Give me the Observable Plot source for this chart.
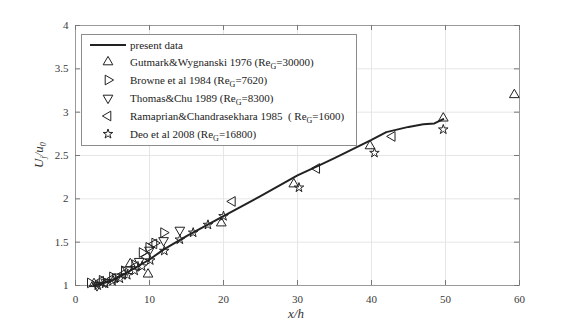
<!DOCTYPE html>
<html><head><meta charset="utf-8">
<script src="https://cdn.jsdelivr.net/npm/d3@7"></script>
<script src="https://cdn.jsdelivr.net/npm/@observablehq/plot@0.6"></script>
<style>
body{margin:0;background:#fff;}
#wrap{position:relative;width:581px;height:324px;font-family:"Liberation Serif","Times New Roman","DejaVu Serif",serif;}
#chart svg text{font-family:"Liberation Serif","Times New Roman","DejaVu Serif",serif !important;}
#legend{position:absolute;left:81px;top:34px;width:276px;height:112px;border:1px solid #8c8c8c;background:#fff;box-sizing:border-box;}
.row{position:absolute;left:0;height:16px;width:100%;font-size:11px;color:#222;white-space:nowrap;}
.row .txt{position:absolute;left:48px;top:0;line-height:16px;}
.row svg{position:absolute;left:0;top:0;}
sub{font-size:8px;vertical-align:-3px;line-height:0;}
#ylab{position:absolute;left:-1px;top:148px;width:80px;height:14px;line-height:14px;text-align:center;font-size:13px;font-style:italic;color:#333;transform:rotate(-90deg);}
#xlab{position:absolute;left:256px;top:307px;width:80px;height:13px;line-height:13px;text-align:center;font-size:13px;font-style:italic;color:#333;}
</style>
</head><body>
<div id="wrap"><div id="chart"></div><div id="legend"></div><div id="ylab">U<sub>j</sub>/u<sub>0</sub></div><div id="xlab">x/h</div></div>
<script>
// present data (solid line)
const presentX = [2.5, 3.5, 5, 7, 10, 12, 15, 20, 25, 30, 33, 35, 40, 42, 45, 47, 48.5, 49.7];
const presentY = [1.0, 1.02, 1.06, 1.15, 1.30, 1.42, 1.57, 1.80, 2.03, 2.27, 2.39, 2.47, 2.68, 2.77, 2.83, 2.86, 2.87, 2.92];
// Gutmark & Wygnanski 1976 (up triangles)
const gutmarkX = [2.5, 7.4, 9.8, 19.7, 29.5, 39.8, 49.7, 59.3];
const gutmarkY = [1.02, 1.25, 1.13, 1.72, 2.17, 2.61, 2.93, 3.20];
// Browne et al 1984 (right triangles)
const browneX = [2.0, 3.6, 5.0, 6.6, 8.0, 9.0, 9.9, 10.7, 11.9];
const browneY = [1.03, 1.06, 1.10, 1.17, 1.24, 1.38, 1.44, 1.49, 1.61];
// Thomas & Chu 1989 (down triangles)
const thomasX = [2.9, 4.1, 5.6, 7.0, 8.6, 10.0, 11.9, 14.1];
const thomasY = [1.00, 1.04, 1.10, 1.18, 1.28, 1.41, 1.52, 1.64];
// Ramaprian & Chandrasekhara 1985 (left triangles)
const ramaX = [3.4, 5.0, 6.4, 8.1, 9.6, 10.6, 21.2, 32.6, 42.8];
const ramaY = [1.05, 1.08, 1.13, 1.22, 1.33, 1.48, 1.97, 2.35, 2.72];
// Deo et al 2008 (stars)
const deoX = [3.0, 4.0, 5.0, 6.0, 7.0, 8.0, 9.0, 10.1, 12.0, 14.1, 15.9, 17.9, 20.0, 30.2, 40.4, 49.7];
const deoY = [1.00, 1.02, 1.05, 1.08, 1.12, 1.17, 1.22, 1.29, 1.40, 1.53, 1.61, 1.70, 1.80, 2.13, 2.53, 2.80];
// ticks
const xTicks = [0, 10, 20, 30, 40, 50, 60];
const yTicks = [1, 1.5, 2, 2.5, 3, 3.5, 4];

const pts = (xs, ys) => xs.map((x, i) => ({x, y: ys[i]}));
const ink = "#222";
const R = 3.6;
const RS = 3.0;
const serif = "Liberation Serif, Times New Roman, DejaVu Serif, serif";

const series = [
  {data: pts(gutmarkX, gutmarkY), symbol: "triangle", rotate: 0, label: "Gutmark&amp;Wygnanski 1976 (Re<sub>G</sub>=30000)"},
  {data: pts(browneX, browneY), symbol: "triangle", rotate: 90, label: "Browne et al 1984 (Re<sub>G</sub>=7620)"},
  {data: pts(thomasX, thomasY), symbol: "triangle", rotate: 180, label: "Thomas&amp;Chu 1989 (Re<sub>G</sub>=8300)"},
  {data: pts(ramaX, ramaY), symbol: "triangle", rotate: -90, label: "Ramaprian&amp;Chandrasekhara 1985&nbsp; ( Re<sub>G</sub>=1600)"},
  {data: pts(deoX, deoY), symbol: "star", rotate: 0, label: "Deo et al 2008 (Re<sub>G</sub>=16800)"}
];

const chart = Plot.plot({
  width: 581, height: 324,
  marginLeft: 75, marginRight: 62, marginTop: 25, marginBottom: 39,
  style: {fontFamily: serif, fontSize: "11px", background: "#fff"},
  x: {domain: [0, 60]},
  y: {domain: [1, 4]},
  marks: [
    Plot.gridX(xTicks, {stroke: "#e6e6e6", strokeOpacity: 1}),
    Plot.gridY(yTicks, {stroke: "#e6e6e6", strokeOpacity: 1}),
    Plot.frame({stroke: "#9a9a9a"}),
    Plot.tickX(xTicks, {x: d => d, stroke: "#777", insetTop: 255}),
    Plot.tickX(xTicks, {x: d => d, stroke: "#777", insetBottom: 255}),
    Plot.tickY(yTicks, {y: d => d, stroke: "#777", insetRight: 439}),
    Plot.tickY(yTicks, {y: d => d, stroke: "#777", insetLeft: 439}),
    Plot.axisX({ticks: xTicks, tickSize: 0, tickPadding: 10, label: null, color: "#3a3a3a", fontSize: 11, tickFormat: d => String(d)}),
    Plot.axisY({ticks: yTicks, tickSize: 0, tickPadding: 7, label: null, color: "#3a3a3a", fontSize: 11, tickFormat: d => String(d)}),
    Plot.line(pts(presentX, presentY), {x: "x", y: "y", stroke: ink, strokeWidth: 2, curve: "linear"}),
    ...series.map(s => Plot.dot(s.data, {x: "x", y: "y", symbol: s.symbol, rotate: s.rotate, r: s.symbol === "star" ? RS : R, stroke: ink, fill: "none", strokeWidth: 1}))
  ]
});
document.getElementById("chart").appendChild(chart);
d3.select(chart).selectAll("text").style("font-family", serif);

// legend
const legend = d3.select("#legend");
const rowTops = [2, 19, 37, 55, 73, 91];
const r0 = legend.append("div").attr("class", "row").style("top", rowTops[0] + "px");
const s0 = r0.append("svg").attr("width", 48).attr("height", 16);
s0.append("line").attr("x1", 8).attr("x2", 44).attr("y1", 8).attr("y2", 8).attr("stroke", ink).attr("stroke-width", 2);
r0.append("span").attr("class", "txt").text("present data");
series.forEach((s, i) => {
  const row = legend.append("div").attr("class", "row").style("top", rowTops[i + 1] + "px");
  const svg = row.append("svg").attr("width", 48).attr("height", 16);
  const type = s.symbol === "star" ? d3.symbolStar : d3.symbolTriangle;
  const rr = s.symbol === "star" ? RS : R;
  svg.append("path")
    .attr("d", d3.symbol(type, rr * rr * Math.PI)())
    .attr("transform", `translate(26,8) rotate(${s.rotate})`)
    .attr("fill", "none").attr("stroke", ink).attr("stroke-width", 1);
  row.append("span").attr("class", "txt").html(s.label);
});
</script>
</body></html>
